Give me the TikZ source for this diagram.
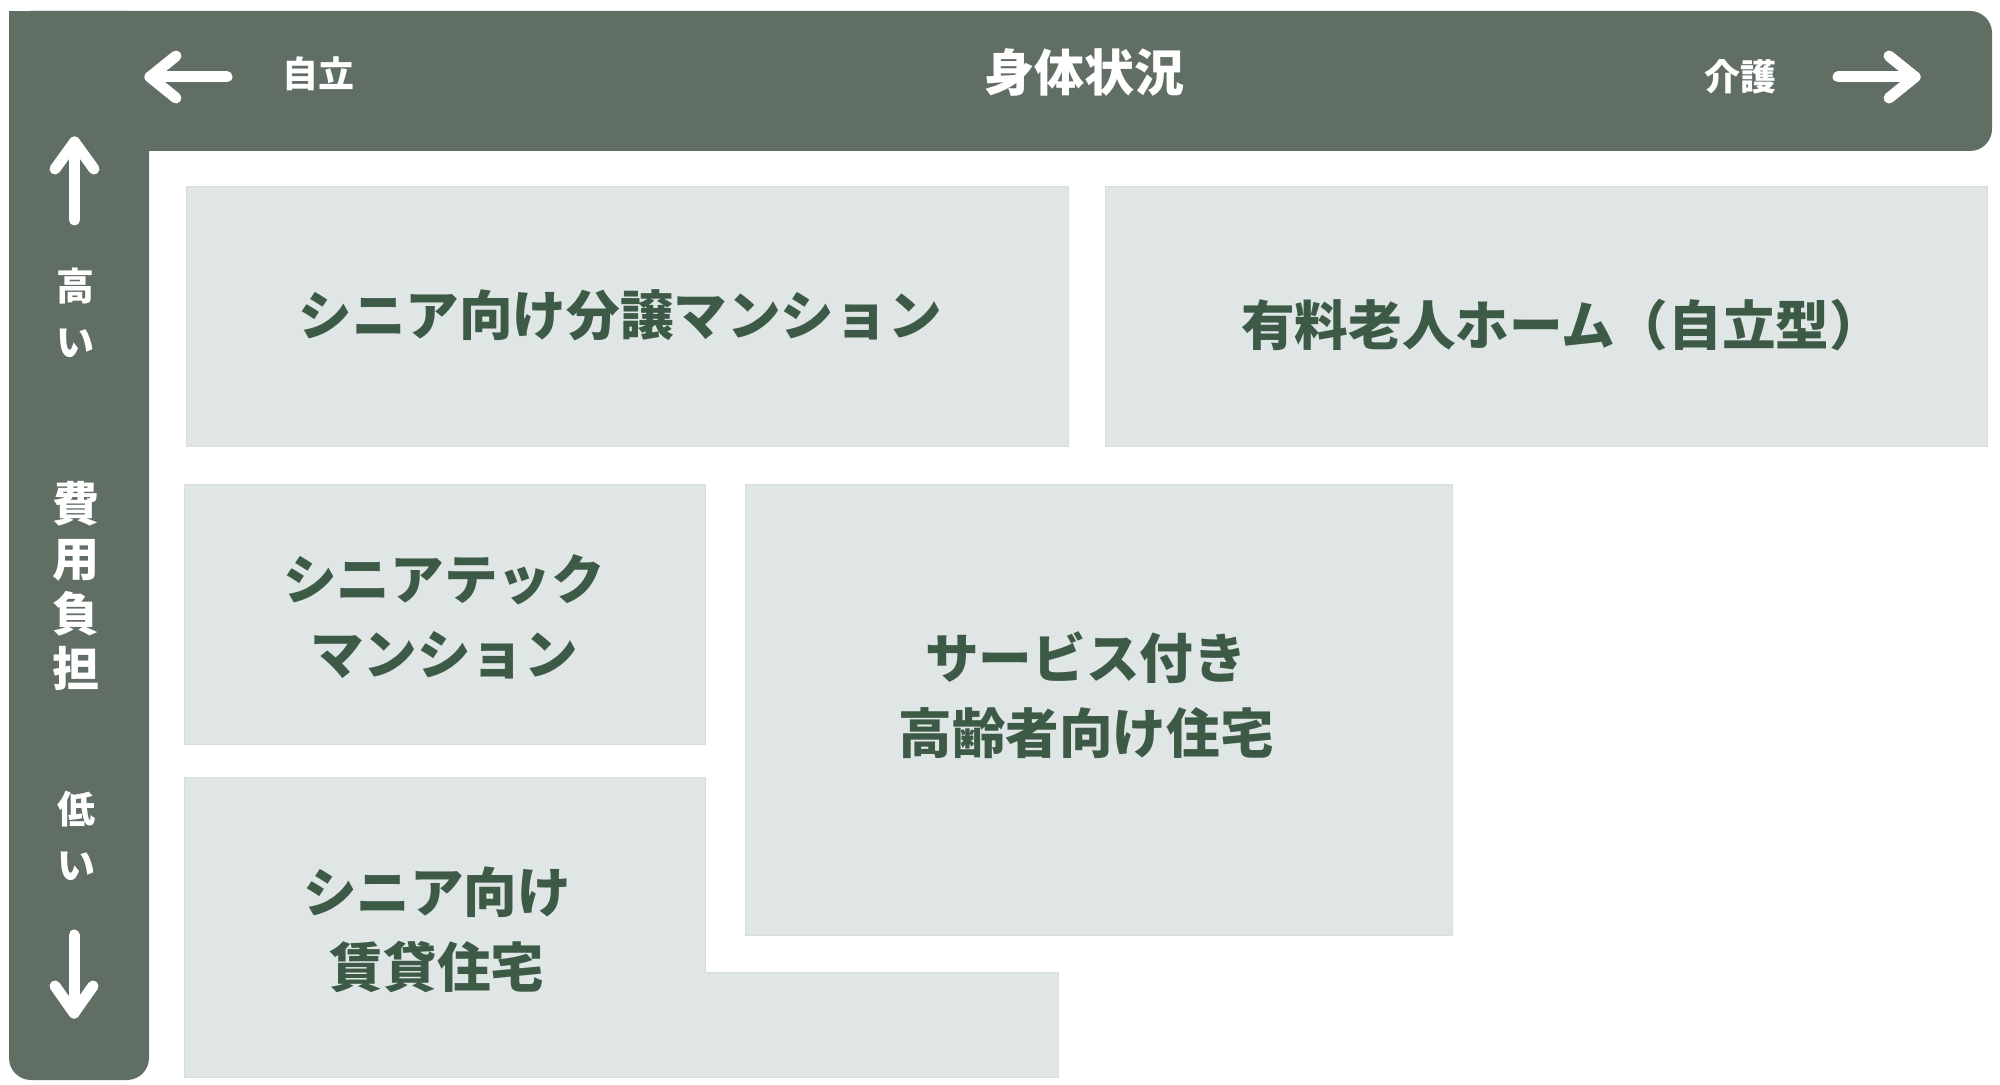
\documentclass[tikz,border=0pt]{standalone}
\usepackage{fontspec}
\setmainfont{Noto Sans CJK JP}
\definecolor{barc}{HTML}{616E64}
\definecolor{boxc}{HTML}{DFE6E5}
\definecolor{boxline}{HTML}{D6DEDC}
\definecolor{txtc}{HTML}{3D5A47}
\tikzset{
  boxshape/.style={fill=boxc, draw=boxline, line width=0.5pt, inner sep=0pt, rectangle},
  boxtext/.style={text=txtc, font=\bfseries\fontsize{26.8pt}{37.5pt}\selectfont, align=center, inner sep=0pt},
  bartext/.style={text=white, font=\bfseries\fontsize{18pt}{22pt}\selectfont, inner sep=0pt},
  arrowline/.style={draw=white, line width=5.5pt, line cap=round, line join=round},
}
\begin{document}
\begin{tikzpicture}[x=0.5pt, y=-0.5pt]
\useasboundingbox (0,0) rectangle (2000,1085);
% L-shaped bar
\fill[barc, rounded corners=11pt] (9,11) rectangle (1992,151);
\fill[barc, rounded corners=11pt] (9,11) rectangle (149,1080);
\fill[barc] (9,11) rectangle (80,80);
% boxes
\node[boxshape, minimum width=441pt, minimum height=129.5pt] (b1) at (627,316.5) {};
\node[boxshape, minimum width=441pt, minimum height=129.5pt] (b2) at (1546,316.5) {};
\node[boxshape, minimum width=260.5pt, minimum height=130pt] (b3) at (444.5,614) {};
\node[boxshape, minimum width=353.5pt, minimum height=225.5pt] (b4) at (1098.5,709.5) {};
\filldraw[fill=boxc, draw=boxline, line width=0.5pt] (184,777) -- (705,777) -- (705,972) -- (1058,972) -- (1058,1077) -- (184,1077) -- cycle;
\coordinate (b5) at (444.5,927);
% box texts
\node[boxtext] (t1) at (620,315) {シニア向け分譲マンション};
\node[boxtext] (t2) at (1562,325) {有料老人ホーム（自立型）};
\node[boxtext] (t3) at (444,617) {シニアテック\\マンション};
\node[boxtext] (t4) at (1086,695) {サービス付き\\高齢者向け住宅};
\node[boxtext] (t5) at (437,930) {シニア向け\\賃貸住宅};
% bar texts
\node[text=white, font=\bfseries\fontsize{25pt}{30pt}\selectfont, inner sep=0pt] (title) at (1084,72) {身体状況};
\node[bartext] (jiritsu) at (318,74) {自立};
\node[bartext] (kaigo) at (1740,77) {介護};
\node[text=white, font=\bfseries\fontsize{23.5pt}{27.5pt}\selectfont, align=center, inner sep=0pt] (cost) at (75.5,586) {費\\用\\負\\担};
\node[text=white, font=\bfseries\fontsize{19pt}{28pt}\selectfont, align=center, inner sep=0pt] (high) at (75,313) {高\\い};
\node[text=white, font=\bfseries\fontsize{19pt}{28pt}\selectfont, align=center, inner sep=0pt] (low) at (76,836) {低\\い};
% arrows
\coordinate (lt) at (150,77); \coordinate (lb) at (227,77);
\draw[arrowline] (lb) -- (lt);
\draw[arrowline] (176,56) -- (lt) -- (176,98);
\coordinate (rt) at (1915,77); \coordinate (rb) at (1838,77);
\draw[arrowline] (rb) -- (rt);
\draw[arrowline] (1889,56) -- (rt) -- (1889,98);
\coordinate (ut) at (74.5,142); \coordinate (ub) at (74.5,220);
\draw[arrowline] (ub) -- (ut);
\draw[arrowline] (55,169) -- (ut) -- (94,169);
\coordinate (dt) at (74,1013); \coordinate (db) at (74,935);
\draw[arrowline] (db) -- (dt);
\draw[arrowline] (55,986) -- (dt) -- (93,986);
\end{tikzpicture}
\end{document}
